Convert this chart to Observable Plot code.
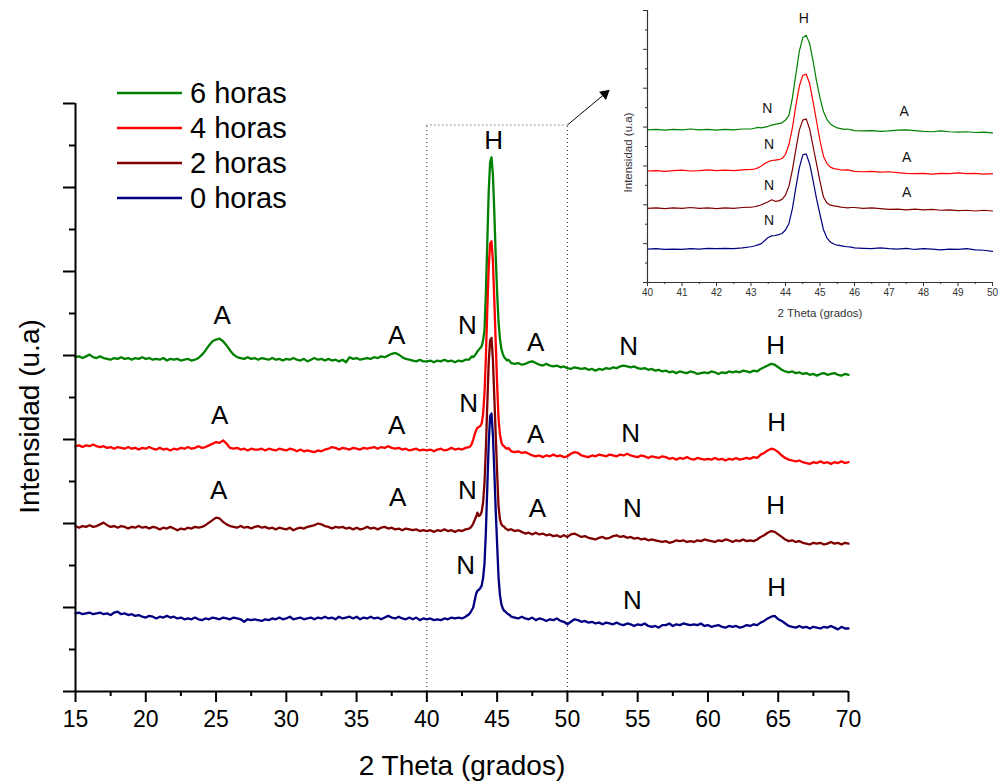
<!DOCTYPE html>
<html><head><meta charset="utf-8">
<script src="https://cdn.jsdelivr.net/npm/d3@7"></script>
<script src="https://cdn.jsdelivr.net/npm/@observablehq/plot@0.6"></script>
<style>
html,body{margin:0;padding:0;background:#fff;}
#wrap{position:relative;width:1000px;height:783px;overflow:hidden;font-family:"Liberation Sans",Arial,sans-serif;}
#wrap svg{position:absolute;}
</style></head><body><div id="wrap"></div>
<script>
// ---- series ----
const seriesNames = ["6 horas", "4 horas", "2 horas", "0 horas"];
const seriesColors = ["#008000", "#ff0000", "#800000", "#000080"];

// x sampling (2 Theta): 15–42.75 step .25, 43.0–45.9 step .1, 46–70 step .25
const gridA = d3.range(60, 172).map(i => i / 4);
const gridB = d3.range(430, 460).map(i => i / 10);
const gridC = d3.range(184, 281).map(i => i / 4);

// 6 horas
const g6A = [3.98,3.99,3.97,3.99, 4.01,3.98,3.97,3.99, 3.97,3.96,3.95,3.97, 3.96,3.98,3.96,3.97, 3.95,3.97,3.96,3.98,
 3.96,3.97,3.95,3.96, 3.95,3.97,3.94,3.96, 3.95,3.96,3.94,3.95, 3.96,3.94,3.95,3.97, 4.01,4.06,4.12,4.17,
 4.19,4.20,4.17,4.12, 4.06,4.01,3.98,3.97, 3.96,3.98,3.96,3.97, 3.95,3.97,3.96,3.95, 3.97,3.95,3.96,3.94,
 3.96,3.95,3.97,3.95, 3.94,3.96,3.93,3.95, 3.97,3.95,3.96,3.94, 3.96,3.94,3.95,3.93, 3.95,3.92,3.98,3.96,
 3.97,3.95,3.96,3.97, 3.96,3.98,3.97,3.99, 3.98,4.00,4.02,4.03, 4.01,3.98,3.96,3.95, 3.94,3.93,3.95,3.93,
 3.93,3.94,3.92,3.94, 3.93,3.95,3.93,3.94, 3.92,3.94,3.93,3.95];
const g6B = [3.95,3.97,3.99,3.98,4.00,4.02,4.05,4.07,4.09,4.11, 4.18,4.30,4.75,5.35,5.95,6.30,6.36,6.15,5.70,5.18,
 4.75,4.40,4.20,4.08,4.02,3.98,3.96,3.94,3.95,3.93];
const g6C = [3.91,3.90,3.91,3.89, 3.90,3.92,3.93,3.91, 3.89,3.88,3.90,3.88, 3.87,3.88,3.86,3.87, 3.85,3.84,3.86,3.85,
 3.84,3.85,3.83,3.84, 3.82,3.84,3.83,3.85, 3.84,3.86,3.85,3.87, 3.88,3.87,3.86,3.87, 3.85,3.84,3.85,3.83,
 3.84,3.82,3.83,3.81, 3.82,3.80,3.81,3.79, 3.81,3.80,3.79,3.81, 3.80,3.78,3.79,3.80, 3.79,3.81,3.80,3.78,
 3.80,3.79,3.81,3.80, 3.81,3.80,3.82,3.81, 3.80,3.82,3.81,3.84, 3.86,3.88,3.90,3.89, 3.86,3.83,3.81,3.80,
 3.81,3.79,3.80,3.78, 3.79,3.77,3.78,3.76, 3.78,3.79,3.77,3.78, 3.79,3.77,3.76,3.78, 3.77];

// 4 horas
const g4A = [2.92,2.93,2.91,2.93, 2.92,2.94,2.92,2.91, 2.92,2.90,2.91,2.89, 2.91,2.90,2.89,2.91, 2.89,2.90,2.88,2.90,
 2.89,2.91,2.89,2.88, 2.90,2.88,2.89,2.87, 2.89,2.88,2.90,2.89, 2.91,2.89,2.90,2.92, 2.90,2.91,2.93,2.95,
 2.97,2.96,2.99,2.95, 2.90,2.89,2.90,2.88, 2.89,2.87,2.89,2.88, 2.88,2.89,2.87,2.89, 2.88,2.87,2.89,2.88,
 2.87,2.89,2.88,2.86, 2.88,2.86,2.87,2.86, 2.85,2.87,2.86,2.88, 2.89,2.91,2.90,2.88, 2.90,2.89,2.88,2.90,
 2.89,2.88,2.90,2.89, 2.90,2.91,2.89,2.91, 2.90,2.92,2.90,2.89, 2.90,2.88,2.89,2.87, 2.88,2.89,2.87,2.88,
 2.87,2.88,2.86,2.88, 2.89,2.87,2.88,2.90, 2.88,2.89,2.88,2.90];
const g4B = [2.91,2.92,2.95,3.00,3.06,3.11,3.14,3.15,3.16,3.19, 3.30,3.55,3.98,4.55,5.05,5.33,5.36,5.12,4.65,4.15,
 3.65,3.25,3.06,2.97,2.93,2.92,2.90,2.89,2.90,2.88];
const g4C = [2.86,2.85,2.86,2.84, 2.85,2.83,2.81,2.80, 2.81,2.79,2.81,2.80, 2.82,2.80,2.81,2.79, 2.80,2.83,2.85,2.84,
 2.81,2.80,2.79,2.81, 2.80,2.82,2.81,2.80, 2.82,2.81,2.80,2.82, 2.81,2.83,2.81,2.80, 2.79,2.81,2.80,2.78,
 2.80,2.79,2.78,2.80, 2.79,2.77,2.78,2.76, 2.78,2.77,2.79,2.77, 2.76,2.78,2.77,2.76, 2.77,2.76,2.78,2.76,
 2.77,2.75,2.77,2.76, 2.78,2.76,2.77,2.78, 2.77,2.79,2.78,2.82, 2.84,2.87,2.89,2.88, 2.85,2.81,2.78,2.76,
 2.75,2.74,2.75,2.73, 2.72,2.71,2.73,2.72, 2.74,2.72,2.73,2.71, 2.73,2.72,2.74,2.72, 2.73];

// 2 horas
const g2A = [1.97,1.95,1.97,1.96, 1.98,1.96,1.97,1.99, 2.01,1.98,1.96,1.97, 1.95,1.97,1.96,1.94, 1.96,1.95,1.97,1.95,
 1.96,1.94,1.96,1.95, 1.93,1.95,1.94,1.96, 1.94,1.92,1.94,1.93, 1.95,1.94,1.96,1.95, 1.96,1.98,2.01,2.04,
 2.07,2.06,2.02,1.99, 1.97,1.96,1.95,1.97, 1.95,1.96,1.94,1.96, 1.97,1.95,1.96,1.94, 1.95,1.93,1.95,1.94,
 1.93,1.95,1.92,1.94, 1.95,1.94,1.96,1.97, 1.98,2.00,1.99,1.97, 1.96,1.94,1.96,1.95, 1.96,1.94,1.95,1.93,
 1.95,1.93,1.94,1.96, 1.94,1.95,1.93,1.95, 1.96,1.94,1.95,1.93, 1.94,1.92,1.94,1.93, 1.92,1.93,1.91,1.92,
 1.91,1.92,1.90,1.92, 1.91,1.93,1.91,1.92, 1.90,1.92,1.91,1.93];
const g2B = [1.94,1.95,1.97,2.00,2.04,2.08,2.13,2.09,2.10,2.14, 2.25,2.48,2.90,3.42,3.92,4.18,4.21,3.95,3.50,3.05,
 2.60,2.20,2.05,1.99,1.97,1.96,1.94,1.93,1.92,1.93];
const g2C = [1.93,1.91,1.92,1.90, 1.88,1.89,1.87,1.89, 1.87,1.88,1.86,1.87, 1.85,1.86,1.84,1.86, 1.84,1.87,1.88,1.86,
 1.84,1.85,1.83,1.82, 1.81,1.83,1.84,1.82, 1.83,1.85,1.86,1.84, 1.85,1.83,1.84,1.82, 1.83,1.81,1.82,1.80,
 1.81,1.80,1.79,1.78, 1.79,1.77,1.78,1.80, 1.79,1.80,1.78,1.79, 1.78,1.80,1.79,1.81, 1.80,1.79,1.78,1.80,
 1.79,1.81,1.80,1.78, 1.80,1.79,1.81,1.79, 1.80,1.79,1.81,1.84, 1.86,1.89,1.91,1.90, 1.87,1.84,1.81,1.79,
 1.80,1.78,1.79,1.77, 1.76,1.75,1.77,1.76, 1.77,1.75,1.76,1.78, 1.76,1.77,1.75,1.77, 1.76];

// 0 horas
const g0A = [0.93,0.94,0.92,0.93, 0.94,0.92,0.93,0.94, 0.92,0.93,0.91,0.94, 0.95,0.92,0.93,0.91, 0.92,0.90,0.91,0.89,
 0.88,0.90,0.89,0.87, 0.89,0.88,0.90,0.88, 0.89,0.87,0.88,0.86, 0.87,0.86,0.88,0.86, 0.85,0.87,0.86,0.88,
 0.87,0.86,0.88,0.87, 0.86,0.88,0.87,0.86, 0.83,0.86,0.85,0.86, 0.85,0.84,0.86,0.85, 0.87,0.86,0.88,0.86,
 0.87,0.89,0.86,0.87, 0.88,0.86,0.87,0.88, 0.86,0.88,0.87,0.89, 0.87,0.88,0.86,0.89, 0.87,0.88,0.89,0.87,
 0.89,0.86,0.88,0.87, 0.89,0.87,0.88,0.86, 0.88,0.90,0.88,0.87, 0.89,0.87,0.86,0.88, 0.86,0.88,0.85,0.87,
 0.86,0.87,0.85,0.86, 0.85,0.87,0.86,0.88, 0.87,0.88,0.87,0.89];
const g0B = [0.92,0.94,0.97,1.00,1.08,1.16,1.20,1.21,1.23,1.26, 1.35,1.52,1.90,2.44,2.95,3.28,3.31,3.05,2.62,2.15,
 1.75,1.36,1.15,1.04,0.99,0.96,0.95,0.93,0.92,0.91];
const g0C = [0.89,0.88,0.87,0.89, 0.87,0.86,0.88,0.85, 0.87,0.86,0.84,0.86, 0.85,0.87,0.84,0.83, 0.80,0.83,0.86,0.85,
 0.83,0.84,0.82,0.83, 0.81,0.82,0.80,0.82, 0.81,0.80,0.82,0.80, 0.79,0.81,0.80,0.78, 0.80,0.79,0.81,0.78,
 0.77,0.78,0.76,0.79, 0.79,0.81,0.78,0.80, 0.79,0.81,0.80,0.79, 0.80,0.79,0.81,0.78, 0.79,0.77,0.78,0.79,
 0.77,0.76,0.78,0.77, 0.78,0.76,0.77,0.79, 0.78,0.80,0.79,0.82, 0.84,0.87,0.89,0.90, 0.86,0.84,0.81,0.78,
 0.77,0.76,0.78,0.76, 0.77,0.75,0.77,0.76, 0.75,0.77,0.76,0.78, 0.76,0.74,0.77,0.75, 0.75];

// ---- ticks ----
const xMajor = [15,20,25,30,35,40,45,50,55,60,65,70];
const xMinor = [17.5,22.5,27.5,32.5,37.5,42.5,47.5,52.5,57.5,62.5,67.5];
const yMajor = [0,1,2,3,4,5,6,7];
const yMinor = [0.5,1.5,2.5,3.5,4.5,5.5,6.5];
const insetXMajor = [40,41,42,43,44,45,46,47,48,49,50];
const insetXMinor = [40.5,41.5,42.5,43.5,44.5,45.5,46.5,47.5,48.5,49.5];

// ---- annotations ----
const mainLabelText = ["A","A","N","H","A","N","H", "A","A","N","A","N","H", "A","A","N","A","N","H", "N","N","H"];
const mainLabelX = [25.44,37.85,42.88,44.75,47.74,54.36,64.82, 25.25,37.85,42.97,47.74,54.5,64.89, 25.18,37.92,42.88,47.86,54.62,64.82, 42.76,54.62,64.89];
const mainLabelY = [4.476,4.238,4.357,6.56,4.158,4.10,4.12, 3.286,3.167,3.43,3.06,3.07,3.20, 2.39,2.31,2.39,2.18,2.18,2.21, 1.50,1.08,1.24];
const insetLabelText = ["H","N","A","N","A","N","A","N"];
const insetLabelX = [44.53,43.47,47.44,43.52,47.51,43.52,47.51,43.52];
const insetLabelY = [6.80,4.465,4.40,3.55,3.21,2.49,2.32,1.60];
const zoomBox = {x1: 40, x2: 50, y1: 0, y2: 6.744};
const arrowFrom = [50, 6.744];
const arrowTo = [52.67, 7.116];

// ---- build table ----
const segs = [[g6A,g6B,g6C],[g4A,g4B,g4C],[g2A,g2B,g2C],[g0A,g0B,g0C]];
const xs = gridA.concat(gridB, gridC);
const rows = [];
segs.forEach((s, k) => {
  const ys = s[0].concat(s[1], s[2]);
  ys.forEach((v, i) => rows.push({x: xs[i], y: v, s: seriesNames[k]}));
});
const insetRows = rows.filter(d => d.x >= 40 && d.x <= 50);
const mainLabels = mainLabelText.map((t, i) => ({t, x: mainLabelX[i], y: mainLabelY[i]}));
const insetLabels = insetLabelText.map((t, i) => ({t, x: insetLabelX[i], y: insetLabelY[i]}));

const font = '"Liberation Sans", Arial, sans-serif';
const wrap = document.getElementById("wrap");
const blank = () => "";

const main = Plot.plot({
  width: 1000, height: 783,
  marginLeft: 75, marginRight: 152, marginTop: 103, marginBottom: 92,
  style: {background: "transparent", fontFamily: font, fontSize: "23px", color: "#000"},
  x: {domain: [15, 70], label: null},
  y: {domain: [0, 7], label: null},
  color: {domain: seriesNames, range: seriesColors},
  marks: [
    Plot.ruleX([zoomBox.x1, zoomBox.x2], {y1: zoomBox.y1, y2: zoomBox.y2, stroke: "#333", strokeWidth: 1, strokeDasharray: "1,3"}),
    Plot.ruleY([zoomBox.y2], {x1: zoomBox.x1, x2: zoomBox.x2, stroke: "#333", strokeWidth: 1, strokeDasharray: "1,3"}),
    Plot.line(rows, {x: "x", y: "y", z: "s", stroke: "s", strokeWidth: 2.3, strokeLinejoin: "round"}),
    Plot.text(mainLabels, {x: "x", y: "y", text: "t", fontSize: 26, fill: "#000", lineAnchor: "middle"}),
    Plot.link([0], {x1: () => arrowFrom[0], y1: () => arrowFrom[1], x2: () => arrowTo[0], y2: () => arrowTo[1], stroke: "#000", strokeWidth: 1}),
    Plot.dot([0], {x: () => arrowTo[0], y: () => arrowTo[1], symbol: "triangle", r: 4, fill: "#000", stroke: "none", rotate: 50}),
    Plot.axisX({ticks: xMajor, tickSize: 11, tickPadding: 8, strokeWidth: 2, fontSize: 23, label: null}),
    Plot.axisX({ticks: xMinor, tickSize: 5, strokeWidth: 2, tickFormat: blank, label: null}),
    Plot.axisY({ticks: yMajor, tickSize: 12, strokeWidth: 2, tickFormat: blank, label: null}),
    Plot.axisY({ticks: yMinor, tickSize: 6, strokeWidth: 2, tickFormat: blank, label: null}),
    Plot.ruleX([15], {y1: 0, y2: 7, strokeWidth: 2}),
    Plot.ruleY([0], {strokeWidth: 2}),
    Plot.text(["2 Theta (grados)"], {frameAnchor: "bottom", text: d => d, dy: 75, fontSize: 28, textAnchor: "middle", lineAnchor: "middle"}),
    Plot.text(["Intensidad (u.a)"], {frameAnchor: "left", text: d => d, dx: -45, dy: 19, rotate: -90, fontSize: 28, textAnchor: "middle", lineAnchor: "middle"})
  ]
});
main.style.left = "0px"; main.style.top = "0px";
wrap.appendChild(main);

const inset = Plot.plot({
  width: 400, height: 330,
  marginLeft: 47, marginRight: 8, marginTop: 10, marginBottom: 48,
  style: {background: "transparent", fontFamily: font, fontSize: "10px", color: "#333"},
  x: {domain: [40, 50], label: null},
  y: {domain: [0, 7], label: null},
  color: {domain: seriesNames, range: seriesColors},
  marks: [
    Plot.line(insetRows, {x: "x", y: "y", z: "s", stroke: "s", strokeWidth: 1.2, strokeLinejoin: "round"}),
    Plot.text(insetLabels, {x: "x", y: "y", text: "t", fontSize: 14, fill: "#111", lineAnchor: "middle"}),
    Plot.axisX({ticks: insetXMajor, tickSize: 4, tickPadding: 2, fontSize: 10, label: null}),
    Plot.axisX({ticks: insetXMinor, tickSize: 2, tickFormat: blank, label: null}),
    Plot.axisY({ticks: yMajor, tickSize: 4, tickFormat: blank, label: null}),
    Plot.axisY({ticks: yMinor, tickSize: 2, tickFormat: blank, label: null}),
    Plot.ruleX([40], {y1: 0, y2: 7, stroke: "#333", strokeWidth: 1.2}),
    Plot.ruleY([0], {stroke: "#333", strokeWidth: 1.2}),
    Plot.text(["2 Theta (grados)"], {frameAnchor: "bottom", text: d => d, dy: 31, fontSize: 11.5, fill: "#333", textAnchor: "middle", lineAnchor: "middle"}),
    Plot.text(["Intensidad (u.a)"], {frameAnchor: "left", text: d => d, dx: -19, dy: 6, rotate: -90, fontSize: 11.5, fill: "#333", textAnchor: "middle", lineAnchor: "middle"})
  ]
});
inset.style.left = "600px"; inset.style.top = "0px";
wrap.appendChild(inset);

// ---- legend ----
const legend = d3.select(wrap).append("svg")
  .attr("width", 320).attr("height", 220)
  .style("left", "0px").style("top", "0px");
const items = legend.selectAll("g").data(seriesNames).join("g")
  .attr("transform", (d, i) => `translate(0,${93 + i * 35})`);
items.append("line").attr("x1", 117).attr("x2", 182).attr("y1", 0).attr("y2", 0)
  .attr("stroke", (d, i) => seriesColors[i]).attr("stroke-width", 2.5);
items.append("text").attr("x", 190).attr("y", 0).attr("dy", "0.35em")
  .attr("font-family", font).attr("font-size", 29).attr("fill", "#000").text(d => d);
</script>
</body></html>
